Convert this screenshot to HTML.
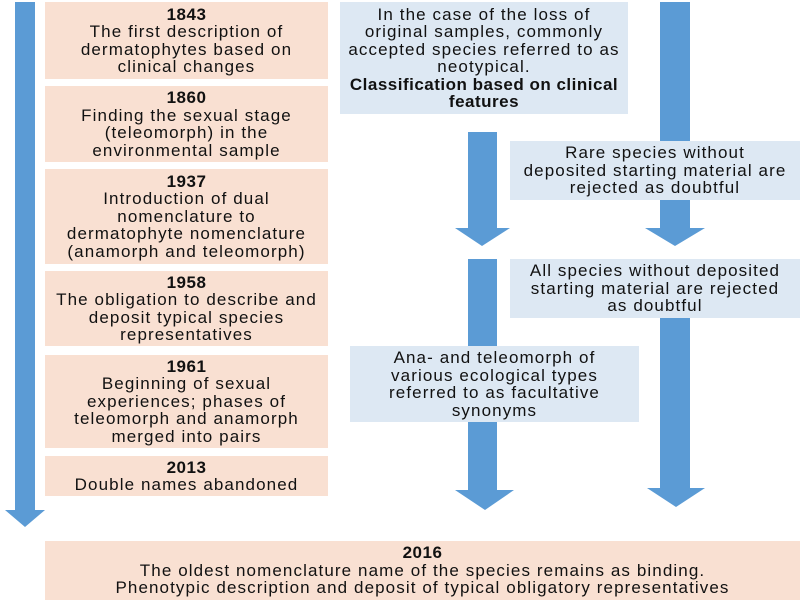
<!DOCTYPE html>
<html><head><style>
body{margin:0;width:800px;height:600px;background:#fff;position:relative;overflow:hidden;font-family:"Liberation Sans",sans-serif;color:#111}
.b{position:absolute;display:flex;flex-direction:column;justify-content:center;align-items:center;text-align:center;font-size:17px;line-height:17.5px;letter-spacing:1.1px;white-space:nowrap}
.p{background:#f9e0d2}
.u{background:#dde8f3}
b{font-weight:bold;letter-spacing:0.5px}
svg{position:absolute;left:0;top:0}
</style></head><body>
<svg width="800" height="600">
<g fill="#5b9bd5">
<polygon points="15,2 35,2 35,510 45,510 25,527 5,510 15,510"/>
<polygon points="468,132 497,132 497,228 510,228 482,246 455,228 468,228"/>
<polygon points="660,2 690,2 690,228 705,228 675,246 645,228 660,228"/>
<polygon points="468,259 497,259 497,490 514,490 485,510 455,490 468,490"/>
<polygon points="660,300 690,300 690,488 705,488 676,507 647,488 660,488"/>
</g>
</svg>
<div class="b p" style="left:45px;top:2px;width:283px;height:77px"><b>1843</b>The first description of<br>dermatophytes based on<br>clinical changes</div>
<div class="b p" style="left:45px;top:86px;width:283px;height:76px"><b>1860</b>Finding the sexual stage<br>(teleomorph) in the<br>environmental sample</div>
<div class="b p" style="left:45px;top:169px;width:283px;height:95px"><b>1937</b>Introduction of dual<br>nomenclature to<br>dermatophyte nomenclature<br>(anamorph and teleomorph)</div>
<div class="b p" style="left:45px;top:271px;width:283px;height:75px"><b>1958</b>The obligation to describe and<br>deposit typical species<br>representatives</div>
<div class="b p" style="left:45px;top:355px;width:283px;height:93px"><b>1961</b>Beginning of sexual<br>experiences; phases of<br>teleomorph and anamorph<br>merged into pairs</div>
<div class="b p" style="left:45px;top:456px;width:283px;height:40px"><b>2013</b>Double names abandoned</div>
<div class="b p" style="left:45px;top:541px;width:755px;height:59px"><b>2016</b>The oldest nomenclature name of the species remains as binding.<br>Phenotypic description and deposit of typical obligatory representatives</div>
<div class="b u" style="left:340px;top:2px;width:288px;height:112px">In the case of the loss of<br>original samples, commonly<br>accepted species referred to as<br>neotypical.<br><b>Classification based on clinical<br>features</b></div>
<div class="b u" style="left:510px;top:141px;width:290px;height:59px">Rare species without<br>deposited starting material are<br>rejected as doubtful</div>
<div class="b u" style="left:510px;top:259px;width:290px;height:59px">All species without deposited<br>starting material are rejected<br>as doubtful</div>
<div class="b u" style="left:350px;top:346px;width:289px;height:76px">Ana- and teleomorph of<br>various ecological types<br>referred to as facultative<br>synonyms</div>
</body></html>
